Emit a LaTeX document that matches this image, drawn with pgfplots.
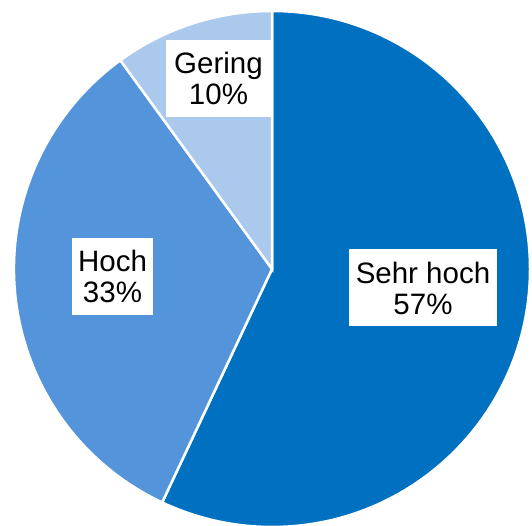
\documentclass[border=0pt]{standalone}
\usepackage{pgfplots}
\usepackage{pgfplotstable}
\pgfplotsset{compat=1.18}
\usepackage{fontspec}
\setmainfont{Liberation Sans}
\definecolor{cSehr}{RGB}{0,112,192}
\definecolor{cHoch}{RGB}{84,148,218}
\definecolor{cGering}{RGB}{170,201,236}
\pgfplotstableread{
label pct
{Sehr hoch} 57
Hoch 33
Gering 10
}\piedata
\pgfplotstablegetelem{0}{pct}\of\piedata \pgfmathtruncatemacro\pA{\pgfplotsretval}
\pgfplotstablegetelem{1}{pct}\of\piedata \pgfmathtruncatemacro\pB{\pgfplotsretval}
\pgfplotstablegetelem{2}{pct}\of\piedata \pgfmathtruncatemacro\pC{\pgfplotsretval}
\pgfmathsetmacro\aA{90-3.6*\pA}
\pgfmathsetmacro\aB{\aA-3.6*\pB}
\pgfmathsetmacro\aC{\aB-3.6*\pC}
\tikzset{lbl/.style={fill=white, align=center, font=\fontsize{29.5bp}{31bp}\selectfont, minimum height=77bp}}
\begin{document}
\begin{tikzpicture}
\begin{axis}[
  name=pie,
  scale only axis, width=532bp, height=526bp,
  xmin=0, xmax=532, ymin=0, ymax=526,
  hide axis, clip=false,
]
\fill[cSehr, draw=white, line width=2.5bp] (axis cs:272,257) -- ++(90:258bp) arc[start angle=90, end angle=\aA, radius=258bp] -- cycle;
\fill[cHoch, draw=white, line width=2.5bp] (axis cs:272,257) -- ++(\aA:258bp) arc[start angle=\aA, end angle=\aB, radius=258bp] -- cycle;
\fill[cGering, draw=white, line width=2.5bp] (axis cs:272,257) -- ++(\aB:258bp) arc[start angle=\aB, end angle=\aC, radius=258bp] -- cycle;
\node[lbl, inner xsep=8bp] at (axis cs:218.5,447.5) {Gering\\\pC\%};
\node[lbl, inner xsep=6.5bp] at (axis cs:112.5,249.5) {Hoch\\\pB\%};
\node[lbl, inner xsep=7bp] at (axis cs:423,238) {Sehr hoch\\\pA\%};
\end{axis}
\pgfresetboundingbox
\path (pie.south west) rectangle (pie.north east);
\end{tikzpicture}
\end{document}
